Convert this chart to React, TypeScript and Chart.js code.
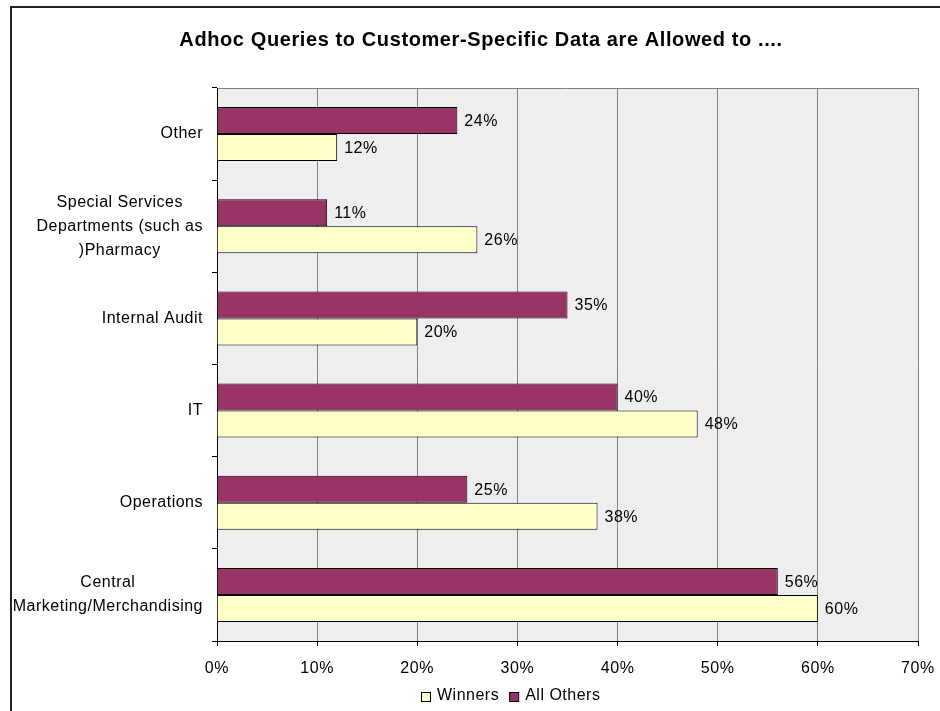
import React, { useEffect, useRef } from 'react';
import { Chart, registerables } from 'chart.js';

Chart.register(...registerables);

// ---- data ----
const categories: (string | string[])[] = [
  'Other',
  ['Special Services', 'Departments (such as', ')Pharmacy'],
  'Internal Audit',
  'IT',
  'Operations',
  ['Central', 'Marketing/Merchandising'],
];
const allOthersValues = [24, 11, 35, 40, 25, 56];
const winnersValues = [12, 26, 20, 48, 38, 60];
const seriesNames = ['All Others', 'Winners'];
const seriesColors = ['#993366', '#FFFFCC'];
const xMin = 0;
const xMax = 70;
const xStep = 10;
const titleText = 'Adhoc Queries to Customer-Specific Data are Allowed to ....';

const FONT = '"Liberation Sans", Arial, Helvetica, sans-serif';
const W = 942;
const H = 705;

const decorPlugin = {
  id: 'decor',
  beforeDraw(chart: any) {
    const ctx = chart.ctx;
    ctx.letterSpacing = '0.6px';
    const { left, top, right, bottom } = chart.chartArea;
    ctx.save();
    ctx.fillStyle = '#EEEEEE';
    ctx.fillRect(left, top, right - left, bottom - top);
    ctx.strokeStyle = '#808080';
    ctx.lineWidth = 1;
    ctx.beginPath();
    ctx.moveTo(left, top + 0.5);
    ctx.lineTo(right, top + 0.5);
    ctx.stroke();
    ctx.restore();
  },
  afterDraw(chart: any) {
    const ctx = chart.ctx;
    ctx.save();
    ctx.letterSpacing = '0.5px';
    ctx.font = `16px ${FONT}`;
    ctx.fillStyle = '#000';
    ctx.textBaseline = 'middle';

    // category labels (lines centered among themselves, block right-aligned)
    const yScale = chart.scales.y;
    const rightEdge = yScale.right - 14;
    const lineH = 24;
    categories.forEach((label, i) => {
      const lines = Array.isArray(label) ? label : [label];
      const widths = lines.map((l) => ctx.measureText(l).width);
      const block = Math.max(...widths);
      const cx = rightEdge - block / 2;
      const cy = yScale.getPixelForTick(i);
      ctx.textAlign = 'center';
      lines.forEach((l, k) => {
        const y = cy + (k - (lines.length - 1) / 2) * lineH;
        ctx.fillText(l, cx, y);
      });
    });

    // value labels
    ctx.textAlign = 'left';
    chart.data.datasets.forEach((ds: any, d: number) => {
      const meta = chart.getDatasetMeta(d);
      meta.data.forEach((bar: any, i: number) => {
        const p = bar.getProps(['x', 'y'], true);
        ctx.fillText(ds.data[i] + '%', p.x + 7, p.y + 1);
      });
    });

    // legend (Winners first)
    let x = 411;
    const boxTop = 686;
    const textY = 689.5;
    const order = chart.data.datasets.map((_: any, i: number) => i).reverse();
    order.forEach((d: number) => {
      const ds = chart.data.datasets[d];
      ctx.fillStyle = ds.backgroundColor;
      ctx.fillRect(x, boxTop, 9, 9);
      ctx.strokeStyle = '#000';
      ctx.lineWidth = 1;
      ctx.strokeRect(x + 0.5, boxTop + 0.5, 9, 9);
      ctx.fillStyle = '#000';
      ctx.textAlign = 'left';
      ctx.fillText(ds.label, x + 16, textY);
      x += 16 + ctx.measureText(ds.label).width + 10;
    });
    ctx.restore();
  },
};

export default function App() {
  const ref = useRef<HTMLCanvasElement | null>(null);

  useEffect(() => {
    if (!ref.current) return;
    const chart = new Chart(ref.current, {
      type: 'bar',
      data: {
        labels: categories as any,
        datasets: [
          {
            label: seriesNames[0],
            data: allOthersValues,
            backgroundColor: seriesColors[0],
            borderColor: '#000',
            borderWidth: 1,
            categoryPercentage: 0.586,
            barPercentage: 1.0,
          },
          {
            label: seriesNames[1],
            data: winnersValues,
            backgroundColor: seriesColors[1],
            borderColor: '#000',
            borderWidth: 1,
            categoryPercentage: 0.586,
            barPercentage: 1.0,
          },
        ],
      },
      options: {
        indexAxis: 'y',
        responsive: false,
        animation: false,
        devicePixelRatio: 1,
        layout: { padding: { left: 0, right: 0, top: 0, bottom: 0 } },
        plugins: {
          legend: { display: false },
          tooltip: { enabled: false },
          title: {
            display: true,
            text: titleText,
            color: '#000',
            font: { family: FONT, size: 20, weight: 'bold' },
            padding: { top: 22, bottom: 36 },
          },
        },
        scales: {
          x: {
            type: 'linear',
            min: xMin,
            max: xMax,
            ticks: {
              stepSize: xStep,
              color: '#000',
              font: { family: FONT, size: 16 },
              padding: 13,
              callback: (v: any) => v + '%',
            },
            grid: {
              color: '#808080',
              lineWidth: 1,
              drawTicks: true,
              tickLength: 5,
              tickColor: '#000',
            },
            border: { color: '#000', width: 1 },
            afterFit: (s: any) => {
              s.height = 70;
              s.paddingRight = 34;
            },
          },
          y: {
            type: 'category',
            ticks: { display: false },
            grid: {
              drawOnChartArea: false,
              drawTicks: true,
              tickLength: 5,
              tickColor: '#000',
              offset: true,
            },
            border: { color: '#000', width: 1 },
            afterFit: (s: any) => {
              s.width = 207;
            },
          },
        },
      } as any,
      plugins: [decorPlugin],
    });
    return () => chart.destroy();
  }, []);

  return (
    <div
      style={{
        position: 'fixed',
        left: 0,
        top: 0,
        width: 940,
        height: 711,
        overflow: 'hidden',
        background: '#fff',
      }}
    >
      <canvas
        ref={ref}
        width={W}
        height={H}
        style={{ position: 'absolute', left: 10, top: 6, width: W, height: H }}
      />
      <div
        style={{
          position: 'absolute',
          left: 10,
          top: 6,
          width: 1000,
          height: 800,
          borderLeft: '2px solid #222',
          borderTop: '2px solid #222',
          boxSizing: 'border-box',
          pointerEvents: 'none',
        }}
      />
    </div>
  );
}
